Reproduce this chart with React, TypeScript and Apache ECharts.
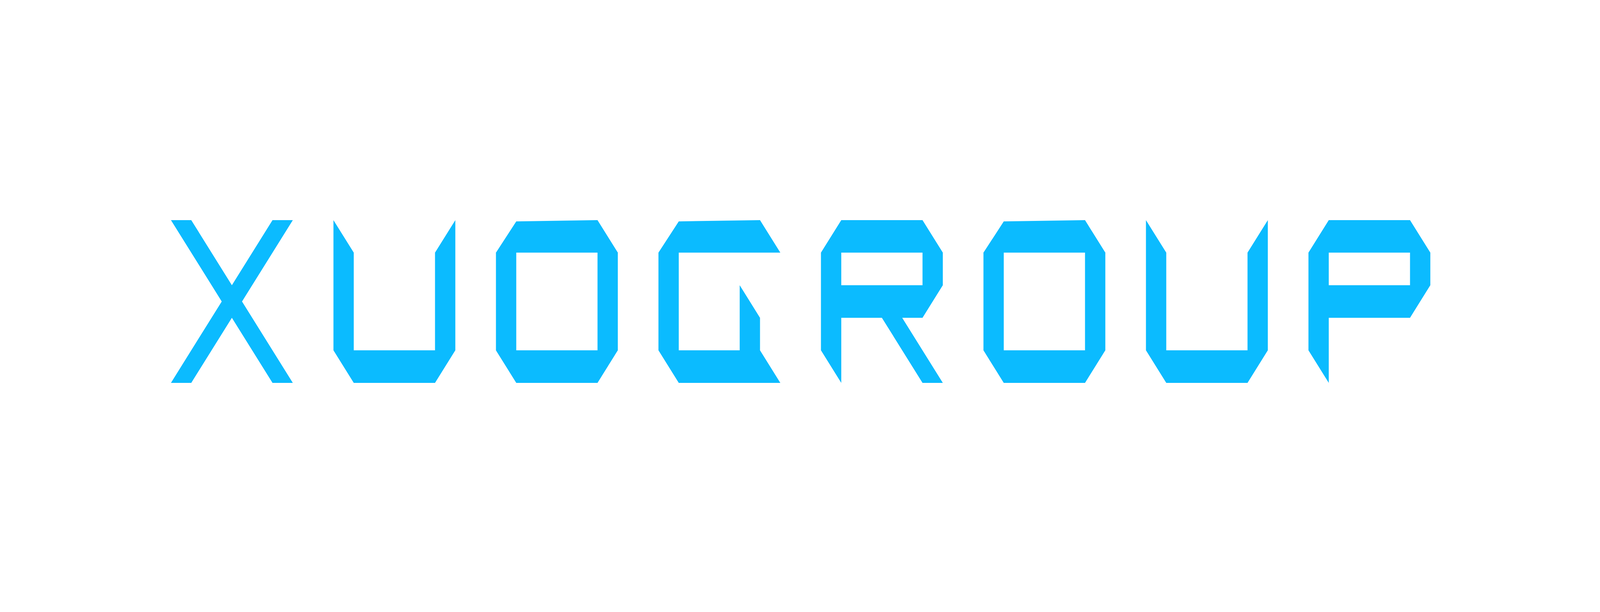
import React, { useEffect, useRef } from 'react';
import * as echarts from 'echarts';

// lettering of the logo, one glyph cell per letter
const letters = ['X', 'U', 'O', 'G', 'R', 'O', 'U', 'P'];
const letterPitch = 8; // grid units from one letter origin to the next
const logoWidth = 62; // 7 pitches + one 6-unit glyph
const logoHeight = 5;

// glyph outlines in grid units (x right, y down), 6 wide x 5 high
const glyphX = [[0, 0], [1, 0], [3, 2], [5, 0], [6, 0], [3.5, 2.5], [6, 5], [5, 5], [3, 3], [1, 5], [0, 5], [2.5, 2.5]];
const glyphU = [[0, 0], [1, 1], [1, 4], [5, 4], [5, 1], [6, 0], [6, 4], [5, 5], [1, 5], [0, 4]];
const glyphO = [[1, 0.04], [5, 0], [6, 1], [6, 4], [5, 5], [1, 5], [0, 4], [0, 1]];
const glyphG = [[1, 0.04], [5, 0], [6, 1], [1, 1], [1, 4], [4, 4], [4, 2], [5, 3], [5, 4], [6, 5], [1, 5], [0, 4], [0, 1]];
const glyphR = [[1, 0], [5, 0], [6, 1], [6, 2], [5, 3], [4, 3], [6, 5], [5, 5], [3, 3], [1, 3], [1, 5], [0, 4], [0, 1]];
const glyphP = [[1, 0], [5, 0], [6, 1], [6, 2], [5, 3], [1, 3], [1, 5], [0, 4], [0, 1]];

// counters (holes)
const holeO = [[1, 1], [5, 1], [5, 4], [1, 4]];
const holeBowl = [[1, 1], [5, 1], [5, 2], [1, 2]];

const outlines: Record<string, number[][]> = { X: glyphX, U: glyphU, O: glyphO, G: glyphG, R: glyphR, P: glyphP };
const holes: Record<string, number[][] | undefined> = { O: holeO, R: holeBowl, P: holeBowl };

const LOGO_BLUE = '#0bbbff';

const App = () => {
  const chartRef = useRef<HTMLDivElement>(null);

  useEffect(() => {
    if (!chartRef.current) return;
    const chart = echarts.init(chartRef.current, null, { renderer: 'svg' });

    const option = {
      animation: false,
      backgroundColor: '#ffffff',
      // logo box as share of the chart, so it keeps its place whatever the viewport
      grid: {
        left: '10.53%',
        top: '35.82%',
        width: '79.02%',
        height: '26.87%',
        containLabel: false,
      },
      xAxis: { type: 'value', min: 0, max: logoWidth, show: false },
      yAxis: { type: 'value', min: 0, max: logoHeight, inverse: true, show: false },
      series: [
        {
          type: 'custom',
          coordinateSystem: 'cartesian2d',
          silent: true,
          encode: { x: 0, y: 1 },
          data: letters.map((l, i) => [i * letterPitch, 0]),
          renderItem: (params: any, api: any) => {
            const letter = letters[params.dataIndex];
            const ox = api.value(0);
            const toPx = (pts: number[][]) => pts.map(([x, y]) => api.coord([ox + x, y]));
            const children: any[] = [
              {
                type: 'polygon',
                shape: { points: toPx(outlines[letter]) },
                style: { fill: LOGO_BLUE, stroke: 'none' },
              },
            ];
            const hole = holes[letter];
            if (hole) {
              children.push({
                type: 'polygon',
                shape: { points: toPx(hole) },
                style: { fill: '#ffffff', stroke: 'none' },
              });
            }
            return { type: 'group', children };
          },
        },
      ],
    };

    chart.setOption(option);

    const resizeHandler = () => chart.resize();
    window.addEventListener('resize', resizeHandler);

    return () => {
      window.removeEventListener('resize', resizeHandler);
      chart.dispose();
    };
  }, []);

  return <div ref={chartRef} style={{ width: '100%', height: 'calc(100vh - 16px)' }} />;
};

export default App;
